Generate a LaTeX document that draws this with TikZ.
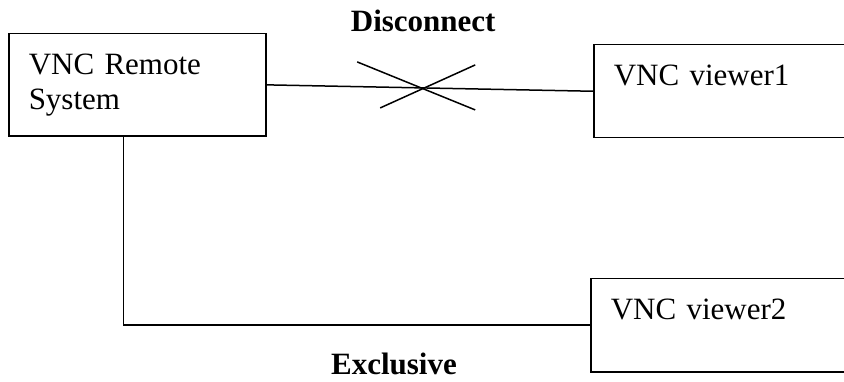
\documentclass[tikz,border=0pt]{standalone}
\usepackage{fontspec}
\setmainfont{Liberation Serif}
\usetikzlibrary{positioning}

\begin{document}
\begin{tikzpicture}[x=1pt, y=-1pt, line width=1.5pt,
    box/.style={draw, anchor=north west, align=left, inner xsep=20pt, inner ysep=20pt,
      font=\fontsize{31}{35}\selectfont},
    viewer/.style={box, text width=320pt, text height=21pt, text depth=32pt},
    lbl/.style={inner sep=0pt, font=\fontsize{31}{35}\selectfont\bfseries}]
  \clip (0,0) rectangle (844,382);

  \node[box, text width=217pt, minimum height=93pt] (remote) at (8,33) {VNC Remote\\System};
  \node[viewer] (viewer1) at (593,44) {VNC viewer1};
  \node[viewer] (viewer2) at (590,278) {VNC viewer2};

  % link that gets cut
  \draw (remote.east) -- coordinate[pos=0.48] (cut) (viewer1.west);
  \draw (cut) ++(-66,-26) -- ++(118,48);
  \draw (cut) ++(-43,20) -- ++(95,-43);
  \node[lbl, above=55pt of cut] (disc) {Disconnect};

  % link that stays
  \draw ([xshift=-14pt]remote.south) |- (viewer2.west)
    node[lbl, pos=0.79, below=27pt] (excl) {Exclusive};
\end{tikzpicture}
\end{document}
